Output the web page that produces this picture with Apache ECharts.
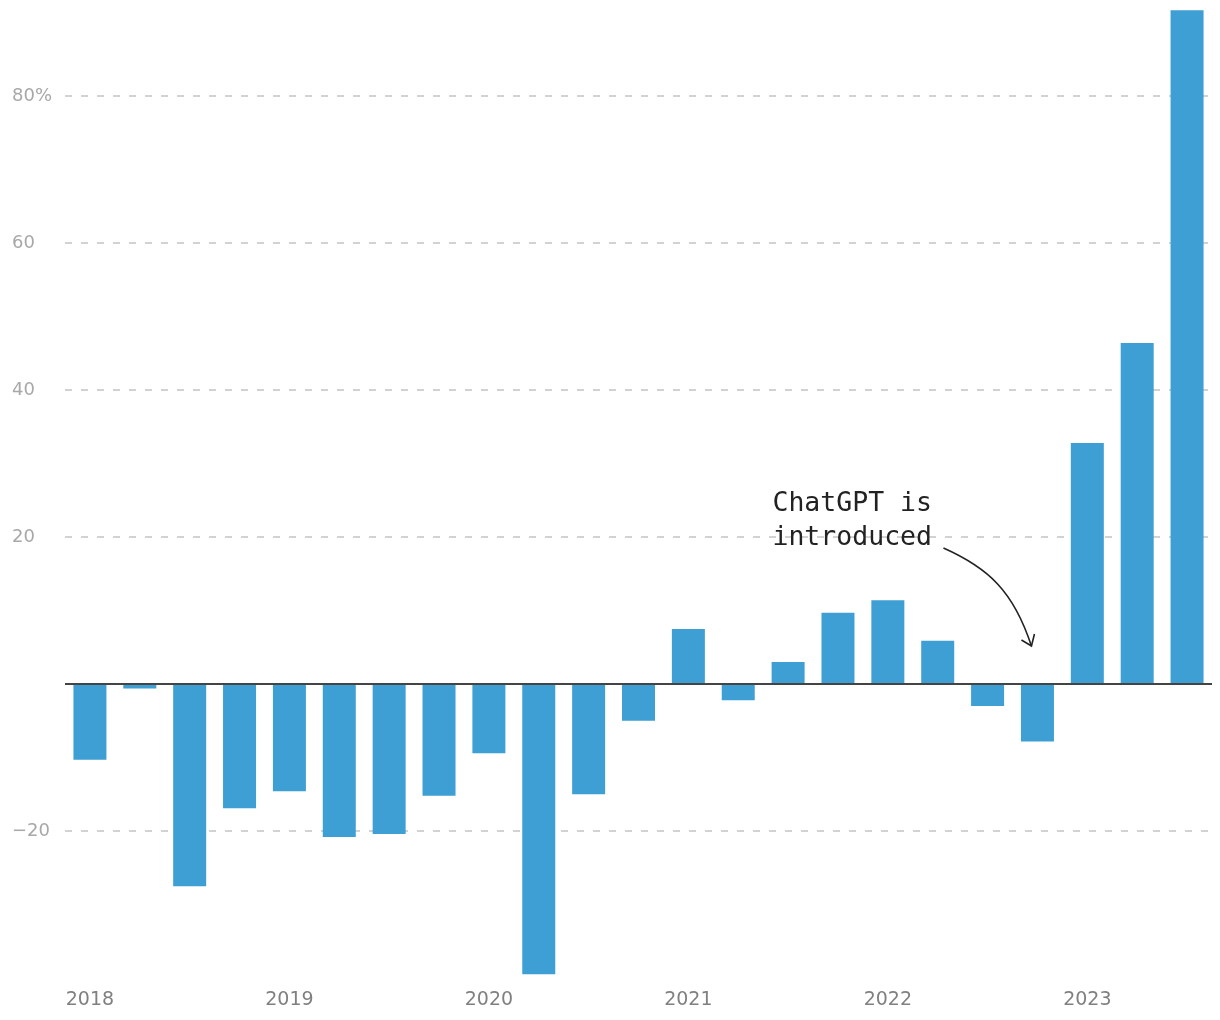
<!DOCTYPE html>
<html><head><meta charset="utf-8">
<script src="https://cdn.jsdelivr.net/npm/echarts@6/dist/echarts.min.js"></script>
<style>html,body{margin:0;padding:0;background:#fff}#c{width:1220px;height:1020px}</style>
</head><body><div id="c"></div>
<script>
const categories = ["2018 Q1","2018 Q2","2018 Q3","2018 Q4","2019 Q1","2019 Q2","2019 Q3","2019 Q4","2020 Q1","2020 Q2","2020 Q3","2020 Q4","2021 Q1","2021 Q2","2021 Q3","2021 Q4","2022 Q1","2022 Q2","2022 Q3","2022 Q4","2023 Q1","2023 Q2","2023 Q3"];
const values = [-10.3,-0.6,-27.5,-16.9,-14.6,-20.8,-20.4,-15.2,-9.4,-39.5,-15.0,-5.0,7.5,-2.2,3.0,9.7,11.4,5.9,-3.0,-7.8,32.8,46.4,91.7];
const yTickLabels = {"-20":"\u221220","20":"20","40":"40","60":"60","80":"80%"};
const annotationLines = ["ChatGPT is","introduced"];
const annotatedIndex = 19;

const chart = echarts.init(document.getElementById('c'), null, {renderer:'canvas'});
const option = {
  animation:false,
  backgroundColor:'#fff',
  grid:{left:65,right:8,top:8,bottom:42,containLabel:false},
  xAxis:{
    type:'category', data:categories, boundaryGap:true,
    axisLine:{show:false,onZero:false}, axisTick:{show:false},
    axisLabel:{
      interval:0, margin:13, color:'#808080', fontFamily:'DejaVu Sans', fontSize:19,
      formatter:(v,i)=> i%4===0 ? v.slice(0,4) : ''
    },
    splitLine:{show:false}
  },
  yAxis:{
    type:'value', min:-40, max:92, interval:20,
    axisLine:{show:false}, axisTick:{show:false},
    axisLabel:{
      align:'left', margin:53, color:'#a8a8a8', fontFamily:'DejaVu Sans', fontSize:18,
      formatter:(v)=> yTickLabels[String(v)] || ''
    },
    splitLine:{show:true,lineStyle:{color:['rgba(0,0,0,0)','#c4c4c4','rgba(0,0,0,0)','#c4c4c4','#c4c4c4','#c4c4c4','#c4c4c4','rgba(0,0,0,0)'],type:[7,9],width:1.5}}
  },
  series:[{
    type:'bar', data:values, barWidth:33,
    itemStyle:{color:'#3d9fd3'},
    markLine:{
      silent:true, symbol:'none', label:{show:false},
      lineStyle:{color:'#444',width:2,type:'solid'},
      data:[{yAxis:0}]
    }
  }]
};
chart.setOption(option);

// annotation placed relative to the annotated bar
const p = chart.convertToPixel({xAxisIndex:0,yAxisIndex:0},[annotatedIndex,0]);
const tx = p[0] - 265, ty = p[1] - 197;
const start = [p[0]-94, p[1]-136];
const end = [p[0]-6, p[1]-38];
chart.setOption({
  graphic:[
    {type:'text', left:tx, top:ty, style:{text:annotationLines.join('\n'), font:'26.5px "DejaVu Sans Mono", "Liberation Mono", monospace', fill:'#222', lineHeight:34}},
    {type:'bezierCurve', shape:{x1:start[0],y1:start[1],cpx1:start[0]+45,cpy1:start[1]+20,cpx2:end[0]-18,cpy2:end[1]-55,x2:end[0],y2:end[1]}, style:{stroke:'#222',lineWidth:1.6,fill:null}},
    {type:'polyline', shape:{points:[[end[0]-10,end[1]-6],[end[0],end[1]],[end[0]+3,end[1]-12]]}, style:{stroke:'#222',lineWidth:1.6,fill:null}}
  ]
});
</script>
</body></html>
